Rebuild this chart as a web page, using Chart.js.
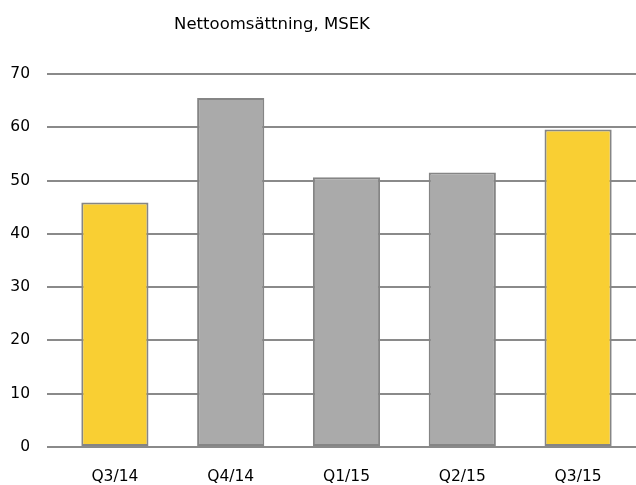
<!DOCTYPE html>
<html>
<head>
<meta charset="utf-8">
<script src="https://cdn.jsdelivr.net/npm/chart.js@4.4.0/dist/chart.umd.min.js"></script>
<style>
html,body{margin:0;padding:0;background:#fff;}
#wrap{width:636px;height:485px;position:relative;}
</style>
</head>
<body>
<div id="wrap"><canvas id="c" width="636" height="485"></canvas></div>
<script>
const titleText = "Nettoomsättning, MSEK";
const categories = ["Q3/14", "Q4/14", "Q1/15", "Q2/15", "Q3/15"];
const values = [45.9, 65.5, 50.6, 51.5, 59.6];
const barColors = ["#F9CF33", "#AAAAAA", "#AAAAAA", "#AAAAAA", "#F9CF33"];
const yTicks = [0, 10, 20, 30, 40, 50, 60, 70];

const FONT = "'DejaVu Sans', Verdana, sans-serif";

const titlePlugin = {
  id: 'customTitle',
  afterDraw(chart) {
    const ctx = chart.ctx;
    ctx.save();
    ctx.font = "16.5px " + FONT;
    ctx.fillStyle = "#000";
    ctx.textAlign = "center";
    ctx.textBaseline = "middle";
    ctx.fillText(titleText, 272, 25);
    ctx.restore();
  }
};

new Chart(document.getElementById('c'), {
  type: 'bar',
  data: {
    labels: categories,
    datasets: [{
      data: values,
      backgroundColor: barColors,
      borderColor: "#858585",
      borderWidth: 2,
      borderSkipped: false,
      categoryPercentage: 1.0,
      barPercentage: 0.58
    }]
  },
  options: {
    responsive: false,
    animation: false,
    devicePixelRatio: 1,
    layout: { padding: { top: 74, bottom: 0, left: 0, right: 0 } },
    plugins: { legend: { display: false }, title: { display: false }, tooltip: { enabled: false } },
    scales: {
      x: {
        grid: { display: false },
        border: { display: false },
        ticks: { color: "#000", font: { family: FONT, size: 15.5 }, padding: 13, maxRotation: 0 },
        afterFit(s) { s.height = 38; }
      },
      y: {
        min: 0, max: 70,
        afterBuildTicks(s) { s.ticks = yTicks.map(v => ({ value: v })); },
        grid: { color: "#8a8a8a", lineWidth: 2, tickLength: 10, drawTicks: true },
        border: { display: false },
        ticks: { color: "#000", font: { family: FONT, size: 15.5 }, padding: 17 },
        afterFit(s) { s.width = 57; }
      }
    }
  },
  plugins: [titlePlugin]
});
</script>
</body>
</html>
